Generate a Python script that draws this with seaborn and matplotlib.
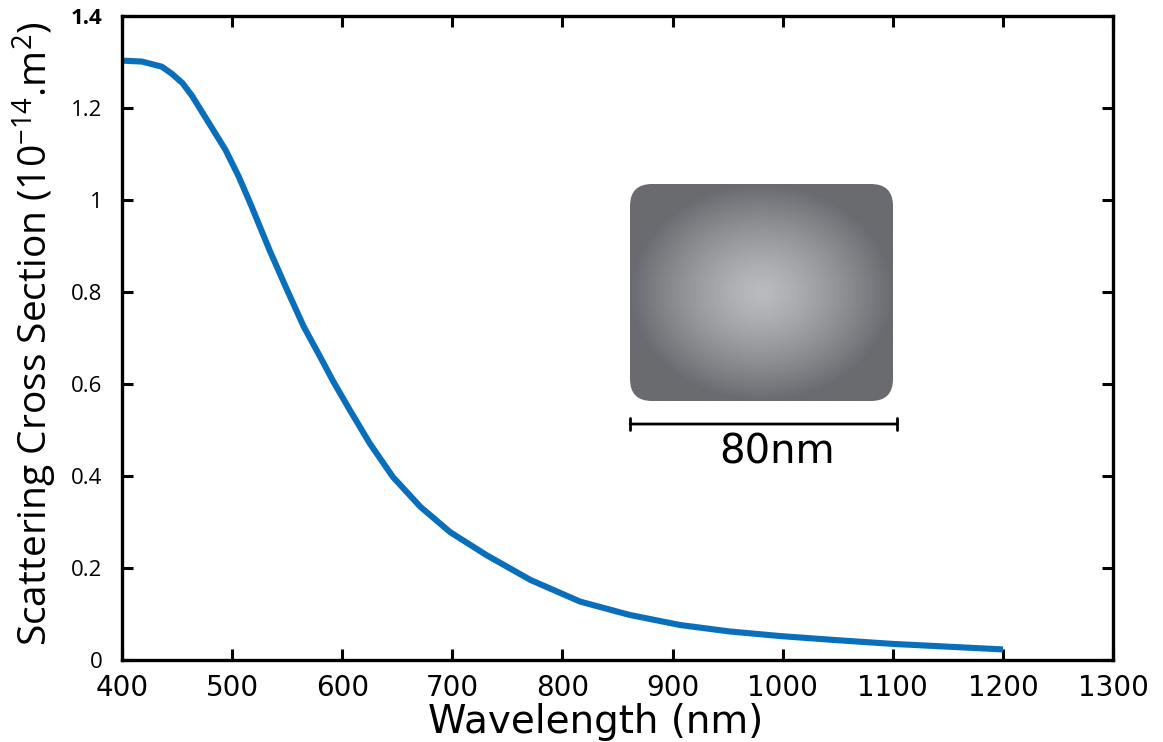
import numpy as np
import pandas as pd
import matplotlib
matplotlib.use("Agg")
import matplotlib.pyplot as plt
import seaborn as sns
from matplotlib.patches import FancyBboxPatch

# ---- data ----
wavelength_nm = [400, 418, 436, 445, 455, 464, 479, 494, 506, 517, 534, 550, 565,
                 580, 592, 607, 625, 646, 671, 698, 731, 771, 816, 861, 907, 952,
                 998, 1050, 1100, 1150, 1200]
scattering = [1.303, 1.301, 1.290, 1.275, 1.254, 1.225, 1.167, 1.109, 1.051, 0.990,
              0.891, 0.804, 0.725, 0.659, 0.605, 0.543, 0.471, 0.398, 0.333, 0.278,
              0.228, 0.174, 0.127, 0.098, 0.076, 0.062, 0.052, 0.043, 0.035, 0.029,
              0.023]
x_ticks = [400, 500, 600, 700, 800, 900, 1000, 1100, 1200, 1300]
y_ticks = [0, 0.2, 0.4, 0.6, 0.8, 1.0, 1.2, 1.4]
y_tick_labels = ["0", "0.2", "0.4", "0.6", "0.8", "1", "1.2", "1.4"]
scale_label = "80nm"

df = pd.DataFrame({"wavelength": wavelength_nm, "scs": scattering})

sns.set_theme(style="ticks")
plt.rcParams["font.family"] = ["DejaVu Sans"]
plt.rcParams["mathtext.fontset"] = "custom"
plt.rcParams["mathtext.rm"] = "Open Sans"
for k in ["text.color", "axes.labelcolor", "xtick.color", "ytick.color", "axes.edgecolor"]:
    plt.rcParams[k] = "black"

W, H = 1163, 742
fig = plt.figure(figsize=(W / 100, H / 100), dpi=100)
ax = fig.add_axes([122 / W, 1 - 660 / H, (1113 - 122) / W, (660 - 16) / H])

sns.lineplot(data=df, x="wavelength", y="scs", ax=ax, color="#0a6fba",
             linewidth=4.4, solid_capstyle="butt", solid_joinstyle="round")

ax.set_xlim(400, 1300)
ax.set_ylim(0, 1.4)
ax.set_xticks(x_ticks)
ax.set_xticklabels([str(t) for t in x_ticks], fontsize=20, family="DejaVu Sans")
ax.set_yticks(y_ticks)
ax.set_yticklabels(y_tick_labels, fontsize=16, family="Open Sans")
ax.get_yticklabels()[-1].set_fontweight("bold")
ax.tick_params(direction="in", length=8, width=2.2, top=True, right=True,
               labeltop=False, labelright=False, color="black", labelcolor="black")
ax.tick_params(axis="x", pad=10)
ax.tick_params(axis="y", pad=14)
for s in ax.spines.values():
    s.set_linewidth(2.4)
    s.set_color("black")

ax.set_xlabel("Wavelength (nm)", fontsize=28, family="DejaVu Sans", color="black")
ax.xaxis.set_label_coords(0.478, -0.066)
ax.set_ylabel(r"Scattering Cross Section (10$^{\mathregular{-14}}$.m$^{\mathregular{2}}$)",
              fontsize=28, family="Open Sans", color="black")
ax.yaxis.set_label_coords(-0.064, 0.506)

# scale bar
ax.annotate("", xy=(861.5, 0.513), xytext=(1104, 0.513),
            arrowprops=dict(arrowstyle="|-|,widthA=0.35,widthB=0.35", lw=2,
                            color="black", shrinkA=0, shrinkB=0))
ax.text(995, 0.452, scale_label, fontsize=29, family="DejaVu Sans",
        ha="center", va="center", color="black")

# inset: rounded particle with radial gradient
l, r, t, b = 630, 893, 184, 401
iax = fig.add_axes([l / W, 1 - b / H, (r - l) / W, (b - t) / H])
iw, ih = r - l, b - t
iax.set_xlim(0, iw)
iax.set_ylim(0, ih)
iax.axis("off")
gx, gy = np.meshgrid(np.linspace(-1, 1, 300), np.linspace(-1, 1, 250))
rad = np.clip(np.sqrt(gx ** 2 + gy ** 2) / 1.0, 0, 1)
c_in = np.array([186, 187, 191]) / 255
c_out = np.array([106, 107, 112]) / 255
wgt = rad[..., None] ** 1.3
img = c_in[None, None, :] * (1 - wgt) + c_out[None, None, :] * wgt
im = iax.imshow(img, extent=(0, iw, 0, ih), aspect="auto", interpolation="bilinear")
clip = FancyBboxPatch((0, 0), iw, ih, boxstyle="round,pad=0,rounding_size=22",
                      transform=iax.transData, facecolor="none", edgecolor="none")
iax.add_patch(clip)
im.set_clip_path(clip)

fig.savefig("out.png", dpi=100)
